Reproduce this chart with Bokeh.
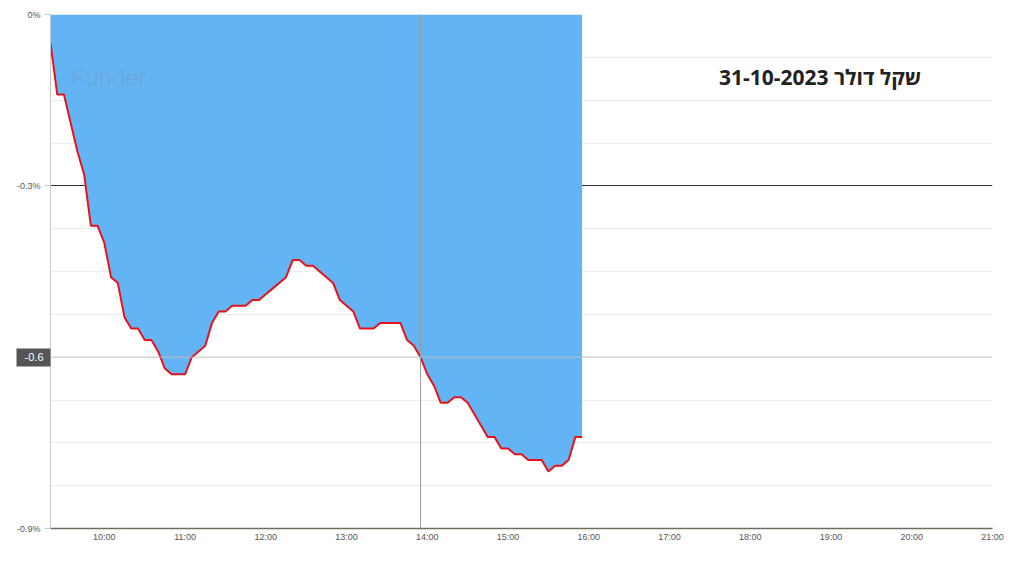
import pandas as pd
from bokeh.plotting import figure
from bokeh.models import (Range1d, FixedTicker, DatetimeTickFormatter, Span, Label,
                          ColumnDataSource)
from bokeh.embed import file_html
from bokeh.resources import INLINE

# ---- data ----
start_time = "2023-10-31 09:20"
values = [-0.05, -0.14, -0.14, -0.19, -0.24, -0.28, -0.37, -0.37, -0.40, -0.46,
          -0.47, -0.53, -0.55, -0.55, -0.57, -0.57, -0.59, -0.62, -0.63, -0.63,
          -0.63, -0.60, -0.59, -0.58, -0.54, -0.52, -0.52, -0.51, -0.51, -0.51,
          -0.50, -0.50, -0.49, -0.48, -0.47, -0.46, -0.43, -0.43, -0.44, -0.44,
          -0.45, -0.46, -0.47, -0.50, -0.51, -0.52, -0.55, -0.55, -0.55, -0.54,
          -0.54, -0.54, -0.54, -0.57, -0.58, -0.60, -0.63, -0.65, -0.68, -0.68,
          -0.67, -0.67, -0.68, -0.70, -0.72, -0.74, -0.74, -0.76, -0.76, -0.77,
          -0.77, -0.78, -0.78, -0.78, -0.80, -0.79, -0.79, -0.78, -0.74, -0.74]
times = pd.date_range(start_time, periods=len(values), freq="5min")
y_ticks = [0.0, -0.3, -0.6, -0.9]
y_tick_labels = {0.0: "0%", -0.3: "-0.3%", -0.6: "", -0.9: "-0.9%"}
y_minor = [-0.075, -0.15, -0.225, -0.375, -0.45, -0.525, -0.675, -0.75, -0.825]
x_tick_hours = list(range(10, 22))
title_text = "31-10-2023 שקל דולר"
watermark = "Funder"
cross_time = pd.Timestamp("2023-10-31 13:55")
cross_value = -0.6
cross_text = "-0.6"

src = ColumnDataSource(dict(t=times, v=values))

day = pd.Timestamp("2023-10-31")
def ms(ts):
    return ts.value / 1e6

x0 = ms(pd.Timestamp("2023-10-31 09:20"))
x1 = ms(pd.Timestamp("2023-10-31 21:00"))

p = figure(x_axis_type="datetime", output_backend="svg", toolbar_location=None,
           frame_width=942, frame_height=514,
           min_border_left=50, min_border_top=14, min_border_right=12, min_border_bottom=28,
           x_range=Range1d(x0, x1), y_range=Range1d(-0.9, 0.0),
           background_fill_color="white", border_fill_color="white")
p.outline_line_color = None

# grids
p.xgrid.visible = False
p.ygrid.ticker = FixedTicker(ticks=[0.0, -0.3], minor_ticks=y_minor)
p.ygrid.grid_line_color = "#333333"
p.ygrid.grid_line_width = 1
p.ygrid.minor_grid_line_color = "#ececec"
p.ygrid.minor_grid_line_width = 1

# area + line
p.varea(x="t", y1=0, y2="v", source=src, fill_color="#63B4F5", fill_alpha=1.0)
p.line(x="t", y="v", source=src, line_color="#E3141C", line_width=2)

# axes (the crosshair value tag box is drawn as the axis' single minor tick)
yax = p.yaxis[0]
yax.ticker = FixedTicker(ticks=y_ticks, minor_ticks=[cross_value])
yax.major_label_overrides = y_tick_labels
yax.axis_line_color = "#c8c8c8"
yax.major_tick_line_color = "#c8c8c8"
yax.major_tick_out = 6
yax.major_tick_in = 0
yax.minor_tick_in = 0
yax.minor_tick_out = 34
yax.minor_tick_line_width = 18
yax.minor_tick_line_color = "#555555"
yax.minor_tick_line_cap = "butt"
yax.major_label_text_font = "Liberation Sans"
yax.major_label_text_font_size = "9px"
yax.major_label_text_color = "#555555"
yax.major_label_standoff = -24

xax = p.xaxis[0]
xax.ticker = FixedTicker(ticks=[ms(day + pd.Timedelta(hours=h)) for h in x_tick_hours])
fmt = "%H:%M"
xax.formatter = DatetimeTickFormatter(hours=fmt, hourmin=fmt, minutes=fmt, minsec=fmt,
                                      days=fmt, months=fmt, years=fmt)
xax.axis_line_color = "#6e6e60"
xax.axis_line_width = 1.5
xax.major_tick_out = 0
xax.major_tick_in = 0
xax.minor_tick_line_color = None
xax.major_label_text_font = "Liberation Sans"
xax.major_label_text_font_size = "9px"
xax.major_label_text_color = "#555555"
xax.major_label_standoff = 3

# watermark
p.add_layout(Label(x=ms(pd.Timestamp("2023-10-31 09:35")), y=-0.11, text=watermark,
                   text_font="Liberation Sans", text_font_size="24px",
                   text_color="#8a8a8a", text_alpha=0.25, text_baseline="middle"))

# title
p.add_layout(Label(x=ms(pd.Timestamp("2023-10-31 20:07")), y=-0.11, text=title_text,
                   text_font="Open Sans", text_font_style="bold", text_font_size="21px",
                   text_color="#222222", text_align="right", text_baseline="middle"))

# crosshair
p.add_layout(Span(location=ms(cross_time), dimension="height",
                  line_color="#9a9a9a", line_width=1))
p.add_layout(Span(location=cross_value, dimension="width",
                  line_color="#bdbdbd", line_width=1))
p.add_layout(Label(x=x0, y=cross_value, text=cross_text, x_offset=-7,
                   text_align="right", text_baseline="middle",
                   text_font="Liberation Sans", text_font_size="11px",
                   text_color="white"), "above")

open("out.html", "w").write(file_html(p, INLINE))
